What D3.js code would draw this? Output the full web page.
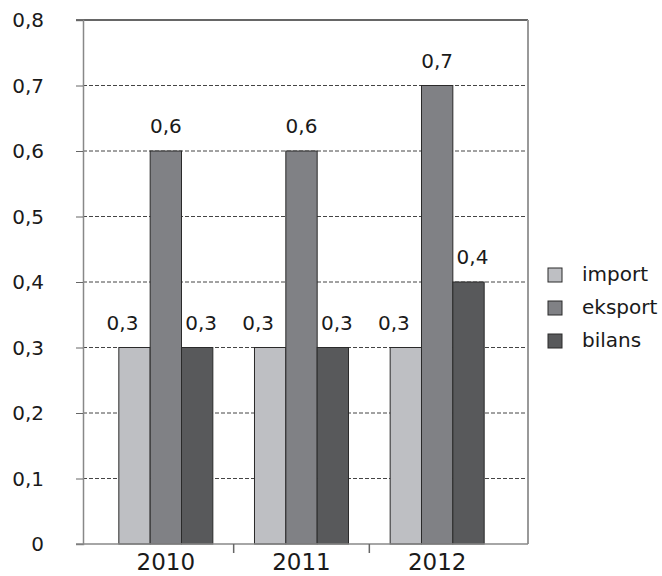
<!DOCTYPE html>
<html>
<head>
<meta charset="utf-8">
<script src="https://cdn.jsdelivr.net/npm/d3@7"></script>
<style>
  html, body { margin: 0; padding: 0; background: #fff; }
  text { font-family: "DejaVu Sans", sans-serif; fill: #1a1a1a; }
</style>
</head>
<body>
<svg id="chart" width="662" height="576"></svg>
<script>
const years = ["2010", "2011", "2012"];
const seriesNames = ["import", "eksport", "bilans"];
const importVals = [0.3, 0.3, 0.3];
const eksportVals = [0.6, 0.6, 0.7];
const bilansVals = [0.3, 0.3, 0.4];
const yTicks = [0, 0.1, 0.2, 0.3, 0.4, 0.5, 0.6, 0.7, 0.8];

(function () {
const colors = { import: "#bebfc3", eksport: "#808185", bilans: "#58595b" };
const labelDx = { import: -12, eksport: 0, bilans: 4 };

const seriesVals = { import: importVals, eksport: eksportVals, bilans: bilansVals };
const data = years.map((y, i) => ({ year: y, values: seriesNames.map(s => ({ key: s, value: seriesVals[s][i] })) }));

const svg = d3.select("#chart");
const fmt = v => d3.format(".1f")(v).replace(".", ",");

const pLeft = 83, pRight = 528, pTop = 20, pBottom = 544;

const y = d3.scaleLinear().domain([0, 0.8]).range([pBottom, pTop]);
const x0 = d3.scaleBand().domain(years).range([98, 505]).paddingInner(0.307).paddingOuter(0.1535);
const x1 = d3.scaleBand().domain(seriesNames).range([0, x0.bandwidth()]);

// gridlines (dashed)
svg.append("g").selectAll("line")
  .data(yTicks.filter(t => t > 0 && t < 0.8))
  .join("line")
  .attr("x1", pLeft).attr("x2", pRight)
  .attr("y1", d => y(d)).attr("y2", d => y(d))
  .attr("stroke", "#444").attr("stroke-width", 1).attr("stroke-dasharray", "4,2");

// top solid line
svg.append("line").attr("x1", pLeft - 7).attr("x2", pRight)
  .attr("y1", y(0.8)).attr("y2", y(0.8)).attr("stroke", "#333").attr("stroke-width", 1.5);

// right border
svg.append("line").attr("x1", pRight).attr("x2", pRight)
  .attr("y1", y(0.8)).attr("y2", pBottom).attr("stroke", "#999").attr("stroke-width", 2);

// left axis
const yAxis = d3.axisLeft(y).tickValues(yTicks).tickSize(7).tickFormat("");
const ya = svg.append("g").attr("transform", `translate(${pLeft},0)`).call(yAxis);
ya.select(".domain").attr("stroke", "#888").attr("stroke-width", 1.5);
ya.selectAll(".tick line").attr("stroke", "#666");
svg.append("g").selectAll("text").data(yTicks).join("text")
  .attr("x", 44).attr("y", d => y(d)).attr("dy", "0.36em")
  .attr("text-anchor", "end").attr("font-size", 20)
  .text(d => d === 0 ? "0" : fmt(d));

// bars
const groups = svg.append("g").selectAll("g").data(data).join("g")
  .attr("transform", d => `translate(${x0(d.year)},0)`);
groups.selectAll("rect").data(d => d.values).join("rect")
  .attr("x", d => x1(d.key)).attr("width", x1.bandwidth())
  .attr("y", d => y(d.value)).attr("height", d => y(0) - y(d.value))
  .attr("fill", d => colors[d.key]).attr("stroke", "#2a2a2a").attr("stroke-width", 1);
groups.selectAll("text").data(d => d.values).join("text")
  .attr("x", d => x1(d.key) + x1.bandwidth() / 2 + labelDx[d.key])
  .attr("y", d => y(d.value) - 18)
  .attr("text-anchor", "middle").attr("font-size", 20)
  .text(d => fmt(d.value));

// bottom axis
svg.append("line").attr("x1", pLeft - 7).attr("x2", pRight)
  .attr("y1", pBottom).attr("y2", pBottom).attr("stroke", "#888").attr("stroke-width", 1.5);
const boundaries = years.slice(1).map(yr => x0(yr) - x0.step() * x0.paddingInner() / 2);
svg.append("g").selectAll("line").data(boundaries).join("line")
  .attr("x1", d => d).attr("x2", d => d).attr("y1", pBottom).attr("y2", pBottom + 9)
  .attr("stroke", "#666").attr("stroke-width", 1.5);
svg.append("g").selectAll("text").data(years).join("text")
  .attr("x", d => x0(d) + x0.bandwidth() / 2).attr("y", 570)
  .attr("text-anchor", "middle").attr("font-size", 23)
  .text(d => d);

// legend
const legY = d3.scalePoint().domain(seriesNames).range([275, 341]);
const leg = svg.append("g").selectAll("g").data(seriesNames).join("g")
  .attr("transform", d => `translate(548,${legY(d)})`);
leg.append("rect").attr("x", 0).attr("y", -7).attr("width", 14).attr("height", 14)
  .attr("fill", d => colors[d]).attr("stroke", "#2a2a2a").attr("stroke-width", 1);
leg.append("text").attr("x", 34).attr("y", 0).attr("dy", "0.3em")
  .attr("font-size", 20).text(d => d);
})();
</script>
</body>
</html>
